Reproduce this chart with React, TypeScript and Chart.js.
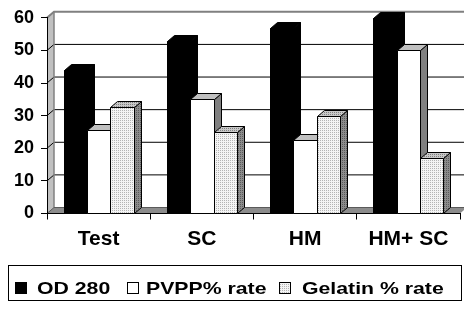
import React, { useEffect, useRef } from 'react';
import { Chart, registerables } from 'chart.js';

Chart.register(...registerables);

const categories = ['Test', 'SC', 'HM', 'HM+ SC'];
const od280 = [44, 53, 57, 60];
const pvppRate = [25.5, 35, 22.5, 50];
const gelatinRate = [32.5, 25, 30, 17];
const seriesNames = ['OD 280', 'PVPP% rate', 'Gelatin % rate'];
const yMin = 0;
const yMax = 60;
const yStep = 10;

const FONT = '"Liberation Sans", Arial, Helvetica, sans-serif';
const DX = 7;
const DY = -6;

function makePattern(ctx: CanvasRenderingContext2D, base: string, dot: string) {
  const c = document.createElement('canvas');
  c.width = 2;
  c.height = 2;
  const p = c.getContext('2d')!;
  p.fillStyle = base;
  p.fillRect(0, 0, 2, 2);
  p.fillStyle = dot;
  p.fillRect(0, 0, 1, 1);
  return ctx.createPattern(c, 'repeat')!;
}

function poly(ctx: CanvasRenderingContext2D, pts: number[][], fill: any, stroke?: string) {
  ctx.beginPath();
  ctx.moveTo(pts[0][0], pts[0][1]);
  for (let i = 1; i < pts.length; i++) ctx.lineTo(pts[i][0], pts[i][1]);
  ctx.closePath();
  if (fill) {
    ctx.fillStyle = fill;
    ctx.fill();
  }
  if (stroke) {
    ctx.strokeStyle = stroke;
    ctx.lineWidth = 1;
    ctx.stroke();
  }
}

export default function App() {
  const ref = useRef<HTMLCanvasElement>(null);

  useEffect(() => {
    const canvas = ref.current!;
    const ctx0 = canvas.getContext('2d')!;
    const faces = [
      { front: '#000000', top: '#000000', side: '#000000' },
      { front: '#ffffff', top: '#c0c0c0', side: '#808080' },
      {
        front: makePattern(ctx0, '#f4f4f4', '#b4b4b4'),
        top: makePattern(ctx0, '#c8c8c8', '#808080'),
        side: makePattern(ctx0, '#8c8c8c', '#5a5a5a'),
      },
    ];

    const threeD = {
      id: 'threeD',
      beforeDraw(chart: any) {
        const { ctx } = chart;
        const { left: L, right: R, top: T, bottom: B } = chart.chartArea;
        const y = chart.scales.y;
        ctx.save();
        ctx.fillStyle = '#ffffff';
        ctx.fillRect(0, 0, chart.width, chart.height);
        ctx.fillStyle = '#ffffff';
        ctx.fillRect(L + DX, T + DY, R - L, B - T);
        poly(ctx, [[L, T], [L + DX, T + DY], [L + DX, B + DY], [L, B]], '#c0c0c0');
        ctx.strokeStyle = '#000000';
        ctx.lineWidth = 1;
        for (const t of y.ticks) {
          if (t.value <= yMin || t.value >= yMax) continue;
          const py = y.getPixelForValue(t.value);
          ctx.beginPath();
          ctx.moveTo(L, py);
          ctx.lineTo(L + DX, py + DY);
          ctx.lineTo(R + DX, py + DY);
          ctx.stroke();
        }
        ctx.strokeStyle = '#808080';
        ctx.lineWidth = 2;
        ctx.beginPath();
        ctx.moveTo(L, T);
        ctx.lineTo(L + DX, T + DY);
        ctx.lineTo(R + DX + 2, T + DY);
        ctx.stroke();
        ctx.lineWidth = 1.5;
        ctx.beginPath();
        ctx.moveTo(L + DX, T + DY);
        ctx.lineTo(L + DX, B + DY);
        ctx.stroke();
        poly(ctx, [[L, B], [R, B], [R + DX, B + DY], [L + DX, B + DY]], '#8c8c8c');
        ctx.strokeStyle = '#5a5a5a';
        ctx.lineWidth = 1;
        ctx.beginPath();
        ctx.moveTo(L, B);
        ctx.lineTo(L + DX, B + DY);
        ctx.lineTo(R + DX, B + DY);
        ctx.stroke();
        ctx.restore();
      },
      beforeDatasetsDraw(chart: any) {
        const { ctx } = chart;
        const n = chart.data.labels.length;
        ctx.save();
        ctx.lineJoin = 'miter';
        for (let j = 0; j < n; j++) {
          chart.data.datasets.forEach((_: any, i: number) => {
            const el = chart.getDatasetMeta(i).data[j];
            if (!el) return;
            const l = Math.round(el.x - el.width / 2) + 0.5;
            const r = Math.round(el.x + el.width / 2) + 0.5;
            const t = Math.round(el.y) + 0.5;
            const b = Math.round(el.base) + 0.5;
            const f = faces[i];
            poly(ctx, [[r, t], [r + DX, t + DY], [r + DX, b + DY], [r, b]], f.side, '#000000');
            poly(ctx, [[l, t], [l + DX, t + DY], [r + DX, t + DY], [r, t]], f.top, '#000000');
            poly(ctx, [[l, t], [r, t], [r, b], [l, b]], f.front, '#000000');
          });
        }
        ctx.restore();
        return false;
      },
      afterDraw(chart: any) {
        const { ctx } = chart;
        ctx.save();
        ctx.strokeStyle = '#000000';
        ctx.lineWidth = 1;
        ctx.strokeRect(8.5, 265.5, 453, 35);
        const items = [
          { sq: 15, tx: 37 },
          { sq: 127, tx: 146 },
          { sq: 279, tx: 302 },
        ];
        ctx.font = `bold 17px ${FONT}`;
        ctx.textBaseline = 'alphabetic';
        ctx.textAlign = 'left';
        items.forEach((it, i) => {
          const f = faces[i];
          ctx.fillStyle = f.front;
          ctx.fillRect(it.sq, 282, 12, 12);
          ctx.strokeStyle = '#000000';
          ctx.strokeRect(it.sq + 0.5, 282.5, 11, 11);
          ctx.save();
          ctx.translate(it.tx, 294);
          ctx.scale(1.25, 1);
          ctx.fillStyle = '#000000';
          ctx.fillText(seriesNames[i], 0, 0);
          ctx.restore();
        });
        ctx.restore();
      },
    };

    const chart = new Chart(canvas, {
      type: 'bar',
      data: {
        labels: categories,
        datasets: [
          { label: seriesNames[0], data: od280, backgroundColor: '#000000' },
          { label: seriesNames[1], data: pvppRate, backgroundColor: '#ffffff' },
          { label: seriesNames[2], data: gelatinRate, backgroundColor: '#dddddd' },
        ],
      },
      options: {
        responsive: false,
        animation: false,
        events: [],
        layout: { padding: { top: 15.5, right: 4, left: 0, bottom: 0 } },
        datasets: { bar: { categoryPercentage: 0.68, barPercentage: 1 } },
        plugins: { legend: { display: false }, tooltip: { enabled: false } },
        scales: {
          x: {
            grid: {
              offset: true,
              drawOnChartArea: false,
              drawTicks: true,
              tickLength: 6,
              color: '#000000',
            },
            border: { display: true, color: '#000000', width: 1 },
            ticks: {
              color: '#000000',
              font: { family: FONT, size: 21, weight: 'bold' },
              padding: 7,
              autoSkip: false,
              maxRotation: 0,
              minRotation: 0,
            },
            afterFit: (s: any) => {
              s.height = 97.5;
            },
          },
          y: {
            min: yMin,
            max: yMax,
            grid: {
              drawOnChartArea: false,
              drawTicks: true,
              tickLength: 6,
              color: '#000000',
            },
            border: { display: true, color: '#000000', width: 1 },
            ticks: {
              stepSize: yStep,
              color: '#000000',
              font: { family: FONT, size: 18, weight: 'bold' },
              padding: 7,
            },
            afterFit: (s: any) => {
              s.width = 47;
            },
          },
        },
      },
      plugins: [threeD],
    } as any);

    return () => chart.destroy();
  }, []);

  return (
    <div style={{ position: 'fixed', left: 0, top: 0, width: 464, height: 311, background: '#ffffff' }}>
      <canvas ref={ref} width={464} height={311} style={{ display: 'block' }} />
    </div>
  );
}
